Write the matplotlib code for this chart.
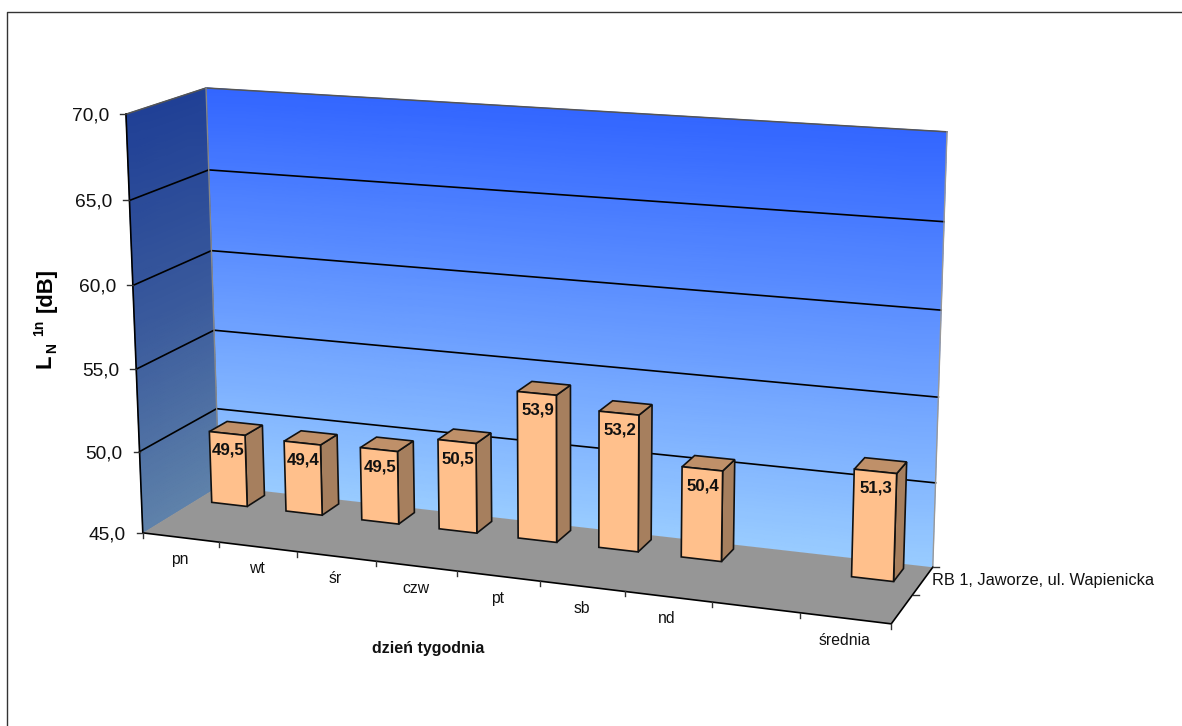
import numpy as np
import matplotlib
matplotlib.use("Agg")
from matplotlib import pyplot as plt
from matplotlib.colors import LinearSegmentedColormap
from matplotlib.patches import Polygon

plt.rcParams["font.family"] = ["Liberation Sans", "DejaVu Sans"]

categories = ["pn", "wt", "śr", "czw", "pt", "sb", "nd", "", "średnia"]
values = [49.5, 49.4, 49.5, 50.5, 53.9, 53.2, 50.4, None, 51.3]
labels = ["49,5", "49,4", "49,5", "50,5", "53,9", "53,2", "50,4", "", "51,3"]
y_ticks = [45, 50, 55, 60, 65, 70]
y_tick_labels = ["45,0", "50,0", "55,0", "60,0", "65,0", "70,0"]
series_name = "RB 1, Jaworze, ul. Wapienicka"

N = len(categories)
YMIN, YMAX = y_ticks[0], y_ticks[-1]

# camera calibration: (slot, value, depth) -> pixel
anchors = [
    ((0, YMIN, 0), (143, 532)),
    ((0, YMAX, 0), (126, 114)),
    ((0, YMIN, 1), (219, 487)),
    ((0, YMAX, 1), (206, 88)),
    ((N, YMIN, 0), (891, 625)),
    ((N, YMIN, 1), (933, 566)),
    ((N, YMAX, 1), (947, 132)),
]
rows = []
for (x, y, z), (u, v) in anchors:
    p = [x, y, z, 1]
    rows.append(p + [0, 0, 0, 0] + [-u * c for c in p])
    rows.append([0, 0, 0, 0] + p + [-v * c for c in p])
CAM = np.linalg.svd(np.array(rows, dtype=float))[2][-1].reshape(3, 4)


def proj(x, y, z):
    q = CAM @ np.array([x, y, z, 1.0])
    return q[0] / q[2], q[1] / q[2]


def wall(ax, corner_a, corner_b, cmap, base):
    # vertical wall between two floor points, shaded by value
    outline = [proj(corner_a[0], YMIN, corner_a[1]), proj(corner_b[0], YMIN, corner_b[1]),
               proj(corner_b[0], YMAX, corner_b[1]), proj(corner_a[0], YMAX, corner_a[1])]
    ax.add_patch(Polygon(outline, closed=True, fc=base, ec="none", zorder=1))
    levels = np.linspace(YMIN, YMAX, 60)
    X = np.zeros((60, 2))
    Y = np.zeros((60, 2))
    C = np.zeros((60, 2))
    for i, lev in enumerate(levels):
        for j, (x, z) in enumerate([corner_a, corner_b]):
            X[i, j], Y[i, j] = proj(x, lev, z)
            C[i, j] = lev
    ax.pcolormesh(X, Y, C, cmap=cmap, shading="gouraud", vmin=YMIN, vmax=YMAX, zorder=1)


fig = plt.figure(figsize=(11.82, 7.26), dpi=100)
ax = fig.add_axes([0, 0, 1, 1])
ax.set_xlim(0, 1182)
ax.set_ylim(726, 0)
ax.axis("off")

# frame, only top and left show
ax.plot([7, 7, 1182], [726, 11.5, 11.5], color="#333333", lw=1.0, zorder=0)

back_cmap = LinearSegmentedColormap.from_list("back", ["#99CCFF", "#3366FF"])
side_cmap = LinearSegmentedColormap.from_list("side", ["#5F82AA", "#3A5A9C", "#204096"])
wall(ax, (0, 1), (N, 1), back_cmap, "#6699FF")
wall(ax, (0, 0), (0, 1), side_cmap, "#3A5A9C")

floor = [proj(0, YMIN, 0), proj(N, YMIN, 0), proj(N, YMIN, 1), proj(0, YMIN, 1)]
ax.add_patch(Polygon(floor, closed=True, fc="#969696", ec="none", zorder=2))

# gridlines across both walls
for v in y_ticks[1:-1]:
    pts = [proj(0, v, 0), proj(0, v, 1), proj(N, v, 1)]
    ax.plot(*zip(*pts), color="black", lw=1.2, zorder=3)

# wall outlines
top = [proj(0, YMAX, 0), proj(0, YMAX, 1), proj(N, YMAX, 1)]
ax.plot(*zip(*top), color="#555555", lw=1.1, zorder=3)
ax.plot(*zip(proj(0, YMIN, 1), proj(0, YMAX, 1)), color="#888888", lw=1.0, zorder=3)
ax.plot(*zip(proj(N, YMIN, 1), proj(N, YMAX, 1)), color="#999999", lw=1.0, zorder=3)

# axis lines and ticks
ax.plot(*zip(proj(0, YMIN, 0), proj(0, YMAX, 0)), color="black", lw=1.2, zorder=4)
ax.plot(*zip(proj(0, YMIN, 0), proj(N, YMIN, 0), proj(N, YMIN, 1)), color="black", lw=1.2, zorder=4)
for v, lab in zip(y_ticks, y_tick_labels):
    px, py = proj(0, v, 0)
    ax.plot([px - 6, px], [py, py], color="#333333", lw=1.0, zorder=4)
    ax.text(px - 17, py + 2, lab, ha="right", va="center", fontsize=13.8, color="#111111")
for i in range(N + 1):
    px, py = proj(i, YMIN, 0)
    ax.plot([px, px], [py, py + 5], color="#333333", lw=1.0, zorder=4)
for d in (0.5, 1.0):
    px, py = proj(N, YMIN, d)
    ax.plot([px, px + 6], [py, py], color="#333333", lw=1.0, zorder=4)

for i, cat in enumerate(categories):
    px, py = proj(i + 0.5, YMIN, 0)
    ax.text(px - 1, py + 22, cat, ha="center", va="center", fontsize=11.3, color="#111111")

# bars
X0, X1 = 0.22, 0.7
Z0, Z1 = 0.68, 0.92
for i, val in enumerate(values):
    if val is None:
        continue
    a, b = i + X0, i + X1
    front = [proj(a, YMIN, Z0), proj(b, YMIN, Z0), proj(b, val, Z0), proj(a, val, Z0)]
    side = [proj(b, YMIN, Z0), proj(b, YMIN, Z1), proj(b, val, Z1), proj(b, val, Z0)]
    cap = [proj(a, val, Z0), proj(b, val, Z0), proj(b, val, Z1), proj(a, val, Z1)]
    ax.add_patch(Polygon(side, closed=True, fc="#A67F5E", ec="#111111", lw=1.2, zorder=5))
    ax.add_patch(Polygon(cap, closed=True, fc="#BF9069", ec="#111111", lw=1.2, zorder=5))
    ax.add_patch(Polygon(front, closed=True, fc="#FFC08C", ec="#111111", lw=1.2, zorder=6))
    lx, ly = proj((a + b) / 2, val, Z0)
    ax.text(lx + 1, ly + 17, labels[i], ha="center", va="center", fontsize=12.2,
            fontweight="bold", color="#111111", zorder=7)

ax.text(932, 581, series_name, ha="left", va="center", fontsize=11.8, color="#111111")
ax.text(428, 648, "dzień tygodnia", ha="center", va="center", fontsize=11.5, fontweight="bold", color="#111111")

# y axis title built from pieces for the sub and superscript
ax.text(45, 368, "L", rotation=90, ha="center", va="bottom", fontsize=15.8, fontweight="bold", color="black")
ax.text(52, 353, "N", rotation=90, ha="center", va="bottom", fontsize=10, fontweight="bold", color="black")
ax.text(39, 336, "1n", rotation=90, ha="center", va="bottom", fontsize=10, fontweight="bold", color="black")
ax.text(46, 312, "[dB]", rotation=90, ha="center", va="bottom", fontsize=15.8, fontweight="bold", color="black")

fig.savefig("out.png", dpi=100, facecolor="white")
